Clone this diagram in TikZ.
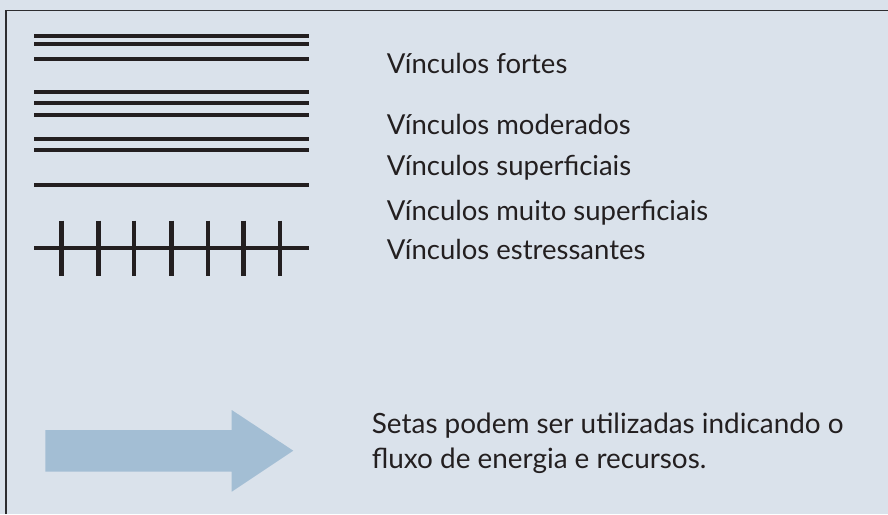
\documentclass[tikz,border=0pt]{standalone}
\usepackage{fontspec}
\setmainfont{Lato}
\usetikzlibrary{positioning}
\definecolor{panelbg}{RGB}{218,226,235}
\definecolor{inkdark}{RGB}{35,31,32}
\definecolor{framegray}{RGB}{45,45,48}
\definecolor{flowblue}{RGB}{163,190,212}
\tikzset{
  tieline/.style={draw=inkdark, line width=4.3pt},
  tietick/.style={draw=inkdark, line width=4.5pt},
  legtext/.style={anchor=base west, inner sep=0pt, text=inkdark, font=\fontsize{27.5}{33}\selectfont},
  notetext/.style={legtext, align=left, font=\fontsize{27.9}{35}\selectfont},
  flowarrow/.style={fill=flowblue, draw=none},
}

\begin{document}
\begin{tikzpicture}[x=1pt, y=-1pt]
  \useasboundingbox[fill=panelbg] (0,0) rectangle (888,514);
  \draw[framegray, line width=1.5pt] (6,514) -- (6,10.5) -- (888,10.5);
  % line symbols
  \foreach \y in {35.7,44,59, 92,103.3,114.7, 138.7,150.3, 185.3, 248.3}
    \draw[tieline] (34,\y) -- (309,\y);
  \foreach \x in {61.7,98.3,134,171.3,208,243.3,280}
    \draw[tietick] (\x,220.7) -- (\x,276);
  % legend texts
  \node[legtext] (strong) at (386.7,73.3) {Vínculos fortes};
  \node[legtext] (moderate) at (386.7,134.3) {Vínculos moderados};
  \node[legtext] (weak) at (386.7,175) {Vínculos superficiais};
  \node[legtext] (veryweak) at (386.7,220) {Vínculos muito superficiais};
  \node[legtext] (stress) at (386.7,259.3) {Vínculos estressantes};
  % flow arrow
  \fill[flowarrow] (45.3,430) -- (231.7,430) -- (231.7,410) -- (293.3,450.7)
    -- (231.7,491.7) -- (231.7,471.7) -- (45.3,471.7) -- cycle;
  \node[notetext] (flownote) at (371.7,468.3) {Setas podem ser utilizadas indicando o\\fluxo de energia e recursos.};
\end{tikzpicture}
\end{document}
